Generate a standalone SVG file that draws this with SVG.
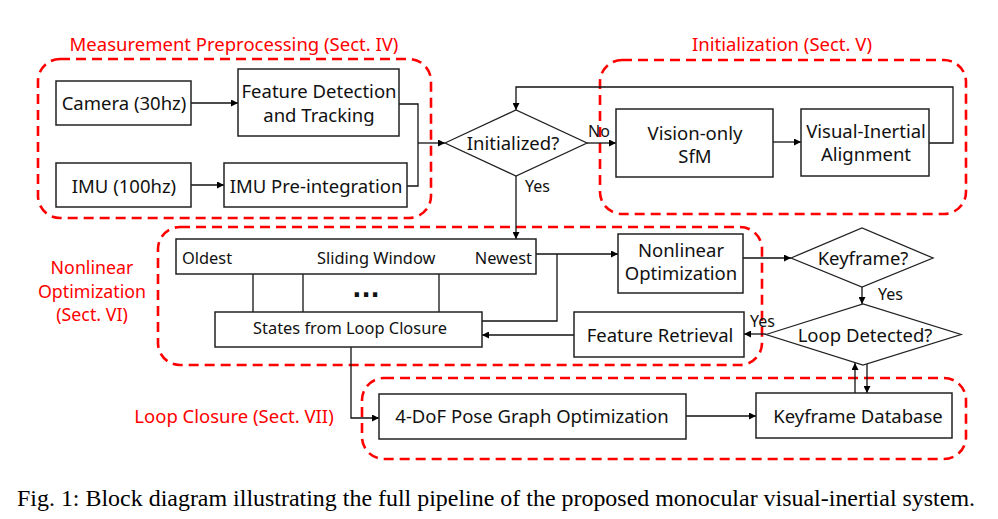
<svg xmlns="http://www.w3.org/2000/svg" width="998" height="519" viewBox="0 0 998 519">
<defs>
<marker id="ah" viewBox="0 0 10 10" refX="10" refY="5" markerWidth="8" markerHeight="7" markerUnits="userSpaceOnUse" orient="auto">
<path d="M0,0 L10,5 L0,10 z" fill="#000"/>
</marker>
<style>
.box{fill:#fff;stroke:#222;stroke-width:1.5}
.dia{fill:#fff;stroke:#222;stroke-width:1.3}
.region{fill:none;stroke:#f00;stroke-width:2.6;stroke-dasharray:10 6}
.t{font-family:"Noto Sans","Open Sans","DejaVu Sans",sans-serif;font-size:18.5px;fill:#111;text-anchor:middle}
.ts{font-family:"Noto Sans","Open Sans","DejaVu Sans",sans-serif;font-size:16.4px;fill:#111}
.dots{font-family:"DejaVu Sans",sans-serif;font-size:24px;font-weight:bold;fill:#111;text-anchor:middle}
.lbl{font-family:"Noto Sans","Open Sans","DejaVu Sans",sans-serif;font-size:16px;fill:#111}
.red{font-family:"Noto Sans","Open Sans","DejaVu Sans",sans-serif;font-size:18.5px;fill:#f00;text-anchor:middle}
.red2{font-family:"Noto Sans","Open Sans","DejaVu Sans",sans-serif;font-size:17.8px;fill:#f00;text-anchor:middle}
.c{fill:none;stroke:#111;stroke-width:1.3}
.a{fill:none;stroke:#111;stroke-width:1.3;marker-end:url(#ah)}
.cap{font-family:"Liberation Serif","Times New Roman",serif;font-size:24px;fill:#000}
</style>
</defs>

<g id="regions">
<rect class="region" x="38" y="59" width="393" height="159" rx="22"/>
<rect class="region" x="600" y="60" width="366" height="154" rx="22"/>
<rect class="region" x="158" y="227" width="604" height="138" rx="22"/>
<rect class="region" x="362" y="378" width="604" height="81" rx="22"/>
<text class="red" x="234" y="51">Measurement Preprocessing (Sect. IV)</text>
<text class="red" x="782" y="51">Initialization (Sect. V)</text>
<text class="red2" x="92" y="274">Nonlinear</text>
<text class="red2" x="92" y="297.5">Optimization</text>
<text class="red2" x="92" y="321">(Sect. VI)</text>
<text class="red" x="234" y="423">Loop Closure (Sect. VII)</text>
</g>

<g id="connectors">
<line class="a" x1="191" y1="103" x2="238" y2="103"/>
<line class="a" x1="191" y1="185" x2="224" y2="185"/>
<polyline class="c" points="399,104 418,104 418,186 407,186"/>
<line class="a" x1="418" y1="143" x2="445" y2="143"/>
<line class="a" x1="587" y1="143" x2="616" y2="143"/>
<line class="a" x1="773" y1="142" x2="801" y2="142"/>
<polyline class="a" points="929,143 953,143 953,87 516,87 516,110"/>
<line class="a" x1="516" y1="176" x2="516" y2="239"/>
<line class="a" x1="536" y1="254" x2="618" y2="254"/>
<polyline class="c" points="557,254 557,321 482,321"/>
<line class="a" x1="743" y1="258" x2="791" y2="258"/>
<line class="a" x1="862" y1="287" x2="862" y2="304"/>
<line class="a" x1="766" y1="334" x2="744" y2="334"/>
<line class="a" x1="574" y1="335" x2="482" y2="335"/>
<polyline class="a" points="351,347 351,418 379,418"/>
<line class="a" x1="686" y1="416" x2="756" y2="416"/>
<line class="a" x1="855" y1="393" x2="855" y2="363"/>
<line class="a" x1="867" y1="364" x2="867" y2="393"/>
<line class="c" x1="253" y1="274" x2="253" y2="312"/>
<line class="c" x1="303" y1="274" x2="303" y2="312"/>
<line class="c" x1="439" y1="274" x2="439" y2="312"/>
<text class="lbl" x="588" y="137">No</text>
<text class="lbl" x="525" y="192">Yes</text>
<text class="lbl" x="878" y="300">Yes</text>
<text class="lbl" x="750" y="327">Yes</text>
</g>

<g id="camera">
<rect class="box" x="56" y="81" width="135" height="44"/>
<text class="t" x="124" y="110">Camera (30hz)</text>
</g>
<g id="feature-detection">
<rect class="box" x="238" y="69" width="161" height="67"/>
<text class="t" x="319" y="98">Feature Detection</text>
<text class="t" x="319" y="122">and Tracking</text>
</g>
<g id="imu">
<rect class="box" x="56" y="163" width="135" height="44"/>
<text class="t" x="124" y="193">IMU (100hz)</text>
</g>
<g id="imu-preintegration">
<rect class="box" x="224" y="163" width="183" height="44"/>
<text class="t" x="316" y="193">IMU Pre-integration</text>
</g>
<g id="initialized">
<polygon class="dia" points="445,143 516,110 587,143 516,176"/>
<text class="t" x="513" y="150">Initialized?</text>
</g>
<g id="vision-sfm">
<rect class="box" x="616" y="109" width="157" height="68"/>
<text class="t" x="695" y="140">Vision-only</text>
<text class="t" x="695" y="163">SfM</text>
</g>
<g id="vi-alignment">
<rect class="box" x="801" y="109" width="128" height="67"/>
<text class="t" x="866" y="138">Visual-Inertial</text>
<text class="t" x="866" y="161">Alignment</text>
</g>
<g id="sliding-window">
<rect class="box" x="176" y="239" width="360" height="35"/>
<text class="ts" x="182" y="264">Oldest</text>
<text class="ts" x="317" y="264">Sliding Window</text>
<text class="ts" x="532" y="264" text-anchor="end">Newest</text>
<text class="dots" x="366" y="297">...</text>
</g>
<g id="states-loop-closure">
<rect class="box" x="215" y="312" width="267" height="35"/>
<text class="ts" x="350" y="334" text-anchor="middle">States from Loop Closure</text>
</g>
<g id="nonlinear-optimization">
<rect class="box" x="618" y="234" width="125" height="59"/>
<text class="t" x="681" y="257">Nonlinear</text>
<text class="t" x="681" y="280">Optimization</text>
</g>
<g id="keyframe">
<polygon class="dia" points="791,258 862,228 933,258 862,287"/>
<text class="t" x="863" y="265">Keyframe?</text>
</g>
<g id="loop-detected">
<polygon class="dia" points="766,334.5 863,304 961,334.5 863,365"/>
<text class="t" x="865" y="342">Loop Detected?</text>
</g>
<g id="feature-retrieval">
<rect class="box" x="574" y="312" width="170" height="45"/>
<text class="t" x="660" y="342">Feature Retrieval</text>
</g>
<g id="pose-graph">
<rect class="box" x="379" y="394" width="307" height="45"/>
<text class="t" x="532" y="423">4-DoF Pose Graph Optimization</text>
</g>
<g id="keyframe-database">
<rect class="box" x="756" y="393" width="196" height="45"/>
<text class="t" x="858" y="423">Keyframe Database</text>
</g>

<text class="cap" x="17" y="506" textLength="958" lengthAdjust="spacingAndGlyphs">Fig. 1: Block diagram illustrating the full pipeline of the proposed monocular visual-inertial system.</text>
</svg>
